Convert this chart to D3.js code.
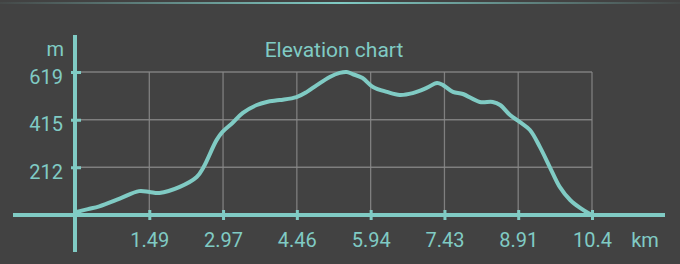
<!DOCTYPE html>
<html><head><meta charset="utf-8">
<script src="https://cdn.jsdelivr.net/npm/d3@7"></script>
<style>
html,body{margin:0;padding:0;background:#424242;}
svg{display:block;}
text{font-family:Roboto,"Noto Sans",sans-serif;fill:#80cbc4;}
</style></head>
<body>
<svg id="c" width="680" height="264"></svg>
<script>
const title = "Elevation chart";
const yUnit = "m";
const xUnit = "km";
const xTickLabels = ["1.49","2.97","4.46","5.94","7.43","8.91","10.4"];
const xTickValues = [1.486,2.971,4.457,5.943,7.429,8.914,10.4];
const yTickLabels = ["212","415","619"];
const yTickValues = [212,415,619];
const distKm = [0,0.25,0.48,0.89,1.28,1.49,1.69,2.10,2.44,2.58,2.84,2.96,3.16,3.37,3.65,3.85,4.11,4.45,4.66,4.86,5.12,5.32,5.46,5.58,5.78,5.99,6.27,6.53,6.79,7.07,7.28,7.40,7.60,7.80,8.14,8.40,8.55,8.75,8.95,9.15,9.35,9.55,9.75,9.96,10.16,10.36,10.4];
const elevM = [20,33,45,78,110,106,102,128,170,213,328,363,401,444,478,491,499,512,534,563,598,615,619,610,593,555,534,521,529,551,572,563,534,525,491,491,478,435,405,371,299,213,128,72,38,12,8];

const teal = "#80cbc4";
const svg = d3.select("#c");

const defs = svg.append("defs");
const g = defs.append("linearGradient").attr("id","tg");
g.append("stop").attr("offset","0%").attr("stop-color",teal).attr("stop-opacity",0.05);
g.append("stop").attr("offset","50%").attr("stop-color",teal).attr("stop-opacity",1);
g.append("stop").attr("offset","100%").attr("stop-color",teal).attr("stop-opacity",0.05);
svg.append("rect").attr("x",0).attr("y",2).attr("width",680).attr("height",2).attr("fill","url(#tg)");

const x = d3.scaleLinear().domain([0,10.4]).range([75.5,592]);
const y = d3.scaleLinear().domain([8,619]).range([215,72]);

const grid = svg.append("g").attr("stroke","#8a8a8a").attr("stroke-width",1.3).attr("stroke-opacity",0.85);
xTickValues.forEach(v=>grid.append("line").attr("x1",x(v)).attr("x2",x(v)).attr("y1",y(619)).attr("y2",215));
yTickValues.forEach(v=>grid.append("line").attr("x1",75).attr("x2",x(10.4)).attr("y1",y(v)).attr("y2",y(v)));

const line = d3.line().x((d,i)=>x(distKm[i])).y((d,i)=>y(elevM[i])).curve(d3.curveCatmullRom.alpha(0.5));
svg.append("path").datum(elevM).attr("d",line).attr("fill","none").attr("stroke",teal).attr("stroke-width",4).attr("stroke-linejoin","round").attr("stroke-linecap","round");

svg.append("line").attr("x1",13).attr("x2",665).attr("y1",215).attr("y2",215).attr("stroke",teal).attr("stroke-width",4);
svg.append("line").attr("x1",75).attr("x2",75).attr("y1",35).attr("y2",252).attr("stroke",teal).attr("stroke-width",4);

const fs = "20px";
const xAxis = d3.axisBottom(x).tickValues(xTickValues).tickSize(10).tickFormat((d,i)=>xTickLabels[i]).tickSizeOuter(0);
const xg = svg.append("g").attr("transform","translate(0,210)").call(xAxis);
xg.select(".domain").remove();
xg.selectAll(".tick line").attr("stroke",teal).attr("stroke-width",3);
xg.selectAll(".tick text").attr("y",37).attr("dy",0).style("font-size",fs).attr("fill",teal).attr("font-family","Roboto");

const yAxis = d3.axisLeft(y).tickValues(yTickValues).tickSize(10).tickFormat((d,i)=>yTickLabels[i]).tickSizeOuter(0);
const yg = svg.append("g").attr("transform","translate(81,0)").call(yAxis);
yg.select(".domain").remove();
yg.selectAll(".tick line").attr("stroke",teal).attr("stroke-width",3);
yg.selectAll(".tick text").attr("x",-18).attr("dy","0.55em").attr("y",0).style("font-size",fs).attr("fill",teal).attr("font-family","Roboto");

svg.append("text").attr("x",64).attr("y",56).attr("text-anchor","end").style("font-size",fs).text(yUnit);
svg.append("text").attr("x",645).attr("y",247).attr("text-anchor","middle").style("font-size",fs).text(xUnit);
svg.append("text").attr("x",334).attr("y",57).attr("text-anchor","middle").style("font-size","21px").text(title);
</script>
</body></html>
